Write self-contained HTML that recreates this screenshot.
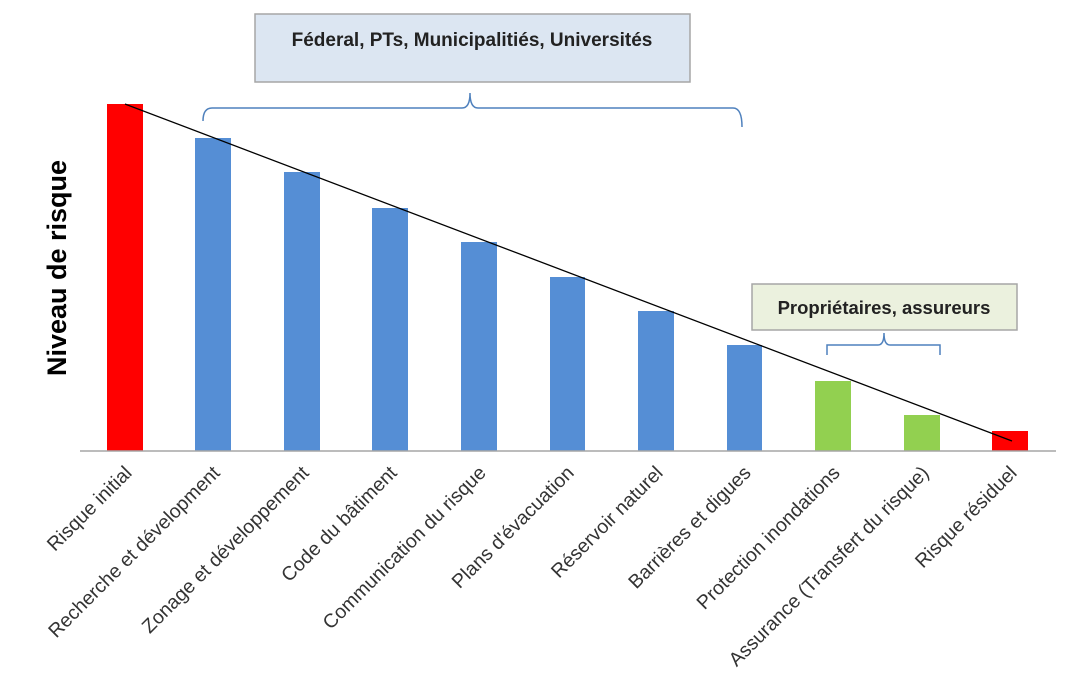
<!DOCTYPE html>
<html><head><meta charset="utf-8"><style>
html,body{margin:0;padding:0;background:#fff;}
svg{display:block;}
text{font-family:"Liberation Sans",sans-serif;}
</style></head><body>
<svg width="1066" height="674" viewBox="0 0 1066 674">
<rect x="255" y="14" width="435" height="68" fill="#dce6f2" stroke="#a6a6a6" stroke-width="1.5"/>
<text x="472" y="46" font-size="19" font-weight="bold" text-anchor="middle" fill="#222">Féderal, PTs, Municipalitiés, Universités</text>
<path d="M203,121 Q203,108 212,108 L462,108 Q470,108 470,93 Q470,108 478,108 L733,108 Q742,108 742,127" fill="none" stroke="#4f81bd" stroke-width="1.5"/>
<rect x="752" y="284" width="265" height="46" fill="#ebf1de" stroke="#a6a6a6" stroke-width="1.5"/>
<text x="884" y="314" font-size="18.5" font-weight="bold" text-anchor="middle" fill="#222">Propriétaires, assureurs</text>
<path d="M827,355 L827,345 L878,345 Q884,345 884,333 Q884,345 890,345 L940,345 L940,355" fill="none" stroke="#4f81bd" stroke-width="1.5"/>
<g>
<rect x="107" y="104" width="36" height="347" fill="#ff0000"/>
<rect x="195" y="138" width="36" height="313" fill="#558ed5"/>
<rect x="284" y="172" width="36" height="279" fill="#558ed5"/>
<rect x="372" y="208" width="36" height="243" fill="#558ed5"/>
<rect x="461" y="242" width="36" height="209" fill="#558ed5"/>
<rect x="550" y="277" width="35" height="174" fill="#558ed5"/>
<rect x="638" y="311" width="36" height="140" fill="#558ed5"/>
<rect x="727" y="345" width="35" height="106" fill="#558ed5"/>
<rect x="815" y="381" width="36" height="70" fill="#92d050"/>
<rect x="904" y="415" width="36" height="36" fill="#92d050"/>
<rect x="992" y="431" width="36" height="20" fill="#ff0000"/>
</g>
<line x1="80" y1="451" x2="1056" y2="451" stroke="#a6a6a6" stroke-width="1.5"/>
<line x1="125" y1="104" x2="1012" y2="441" stroke="#000" stroke-width="1.3"/>
<text transform="translate(66,268) rotate(-90)" font-size="27" font-weight="bold" text-anchor="middle" fill="#000">Niveau de risque</text>
<g font-size="19.5" fill="#333" text-anchor="end">
<text transform="translate(133,474) rotate(-45)">Risque initial</text>
<text transform="translate(221,474) rotate(-45)">Recherche et dévelopment</text>
<text transform="translate(310,474) rotate(-45)">Zonage et développement</text>
<text transform="translate(398,474) rotate(-45)">Code du bâtiment</text>
<text transform="translate(487,474) rotate(-45)">Communication du risque</text>
<text transform="translate(575,474) rotate(-45)">Plans d'évacuation</text>
<text transform="translate(664,474) rotate(-45)">Réservoir naturel</text>
<text transform="translate(752,474) rotate(-45)">Barrières et digues</text>
<text transform="translate(841,474) rotate(-45)">Protection inondations</text>
<text transform="translate(930,474) rotate(-45)">Assurance (Transfert du risque)</text>
<text transform="translate(1018,474) rotate(-45)">Risque résiduel</text>
</g>
</svg>
</body></html>
